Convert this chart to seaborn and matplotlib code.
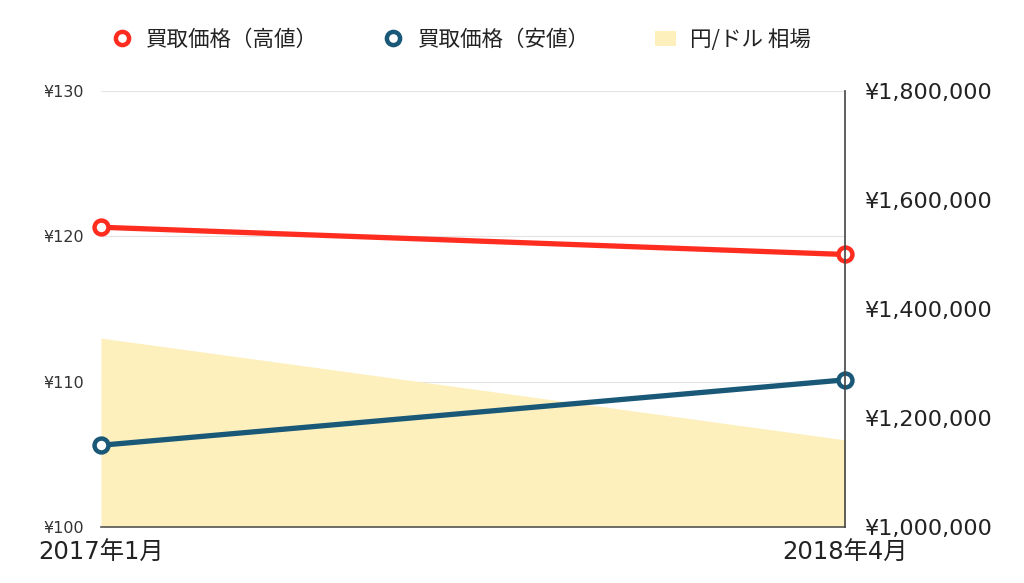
import pandas as pd
import matplotlib.pyplot as plt
import seaborn as sns
from matplotlib.lines import Line2D
from matplotlib.patches import Patch

OUTPUT_PATH = "out.png"

periods = ["2017年1月", "2018年4月"]
price_high = [1550000, 1500000]
price_low = [1150000, 1270000]
usd_jpy = [113, 106]

RED = "#ff2d20"
BLUE = "#1a5878"
FILL = "#fdf0bd"
LATIN = ["DejaVu Sans", "Noto Sans CJK JP"]


def main():
    sns.set_style("white")
    plt.rcParams["font.family"] = ["Noto Sans CJK JP", "DejaVu Sans"]

    df = pd.DataFrame({
        "x": [0, 1],
        "period": periods,
        "high": price_high,
        "low": price_low,
        "rate": usd_jpy,
    })

    fig = plt.figure(figsize=(10.24, 5.83), dpi=100)
    ax = fig.add_axes([0.0986, 0.096, 0.7266, 0.748])

    # yen/dollar area on the left axis
    ax.fill_between(df["x"], 100, df["rate"], color=FILL, linewidth=0, zorder=1)
    ax.set_ylim(100, 130)
    ax.set_yticks([100, 110, 120, 130])
    ax.set_yticklabels([f"¥{v}" for v in [100, 110, 120, 130]], fontsize=11.5,
                       color="#333333", family=LATIN)
    ax.set_xlim(0, 1)
    ax.set_xticks(df["x"])
    ax.set_xticklabels(periods, fontsize=17.5, color="#222222", family=LATIN)
    ax.tick_params(axis="x", length=0, pad=10)
    ax.tick_params(axis="y", length=0, pad=12)
    ax.grid(axis="y", color="#e3e3e3", linewidth=0.8, zorder=0)
    ax.set_axisbelow(True)
    for side in ["top", "left", "right"]:
        ax.spines[side].set_visible(False)
    ax.spines["bottom"].set_color("#555555")
    ax.spines["bottom"].set_linewidth(1.2)
    ax.set_xlabel("")
    ax.set_ylabel("")

    # purchase prices on the right axis
    ax2 = ax.twinx()
    for col, color in [("high", RED), ("low", BLUE)]:
        sns.lineplot(data=df, x="x", y=col, ax=ax2, color=color, linewidth=3.8,
                     marker="o", markersize=10, markerfacecolor="white",
                     markeredgecolor=color, markeredgewidth=3.2, clip_on=False)
    ax2.set_ylim(1000000, 1800000)
    ax2.set_yticks(range(1000000, 1800001, 200000))
    ax2.set_yticklabels([f"¥{v:,}" for v in range(1000000, 1800001, 200000)],
                        fontsize=16, color="#222222", family=LATIN)
    ax2.tick_params(axis="y", length=0, pad=14)
    ax2.set_xlim(0, 1)
    for side in ["top", "left", "bottom"]:
        ax2.spines[side].set_visible(False)
    ax2.spines["right"].set_color("#444444")
    ax2.spines["right"].set_linewidth(1.2)
    ax2.set_ylabel("")
    ax2.set_xlabel("")

    handles = [
        Line2D([], [], linestyle="none", marker="o", markersize=9.5, markerfacecolor="white",
               markeredgecolor=RED, markeredgewidth=3.2),
        Line2D([], [], linestyle="none", marker="o", markersize=9.5, markerfacecolor="white",
               markeredgecolor=BLUE, markeredgewidth=3.2),
        Patch(facecolor=FILL, edgecolor="none"),
    ]
    fig.legend(handles, ["買取価格（高値）", "買取価格（安値）", "円/ドル 相場"],
               loc="center", bbox_to_anchor=(0.45, 0.932), ncol=3, frameon=False,
               fontsize=15.5, columnspacing=3.0, handlelength=1.0, handletextpad=0.64,
               labelcolor="#222222")

    fig.savefig(OUTPUT_PATH, dpi=100)
    plt.close(fig)


if __name__ == "__main__":
    main()
